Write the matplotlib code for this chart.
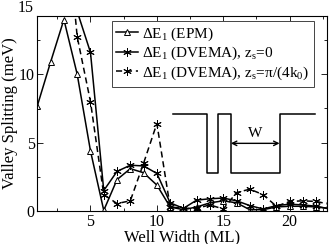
import matplotlib
matplotlib.use("Agg")
import matplotlib.pyplot as plt
from matplotlib.ticker import MultipleLocator

plt.rcParams['font.family'] = ['Liberation Serif', 'DejaVu Serif']
plt.rcParams['mathtext.fontset'] = 'custom'
plt.rcParams['mathtext.rm'] = 'Liberation Serif'
plt.rcParams['mathtext.it'] = 'Liberation Serif'

# EPM
x_epm = [1, 2, 3, 4, 5, 6, 7, 8, 9, 10, 11, 12, 13, 14, 15, 16, 17, 18, 19, 20, 21, 22, 23]
y_epm = [7.7, 10.9, 14.0, 10.0, 4.4, 0.05, 2.3, 3.1, 2.8, 1.9, 0.3, 0.1, 0.3, 0.6, 0.75, 0.6,
         0.1, 0.1, 0.3, 0.35, 0.35, 0.3, 0.2]
# DVEMA zs=0
x_dv0 = [3, 4, 5, 6, 7, 8, 9, 10, 11, 12, 13, 14, 15, 16, 17, 18, 19, 20, 21, 22, 23]
y_dv0 = [20.0, 14.6, 11.6, 1.5, 2.9, 3.35, 3.3, 2.75, 0.6, 0.2, 0.8, 0.9, 0.95, 0.75, 0.4,
         0.15, 0.4, 0.5, 0.45, 0.35, 0.15]
# DVEMA zs=pi/(4k0)
x_dvp = [3, 4, 5, 6, 7, 8, 9, 10, 11, 12, 13, 14, 15, 16, 17, 18, 19, 20, 21, 22, 23]
y_dvp = [23.0, 12.75, 8.0, 1.2, 0.55, 0.75, 3.5, 6.4, 0.3, 0.2, 0.2, 0.45, 0.15, 1.35, 1.6,
         1.2, 0.35, 0.7, 0.75, 0.7, 0.5]

labels = [r'$\Delta$E$_1$ (EPM)',
          r'$\Delta$E$_1$ (DVEMA), z$_\mathrm{s}$=0',
          r'$\Delta$E$_1$ (DVEMA), z$_\mathrm{s}$=$\pi$/(4k$_0$)']

# inset well sketch (data coordinates)
well_x = [11.23, 13.75, 13.75, 14.64, 14.64, 15.57, 15.57, 19.24, 19.24, 21.93]
well_y = [7.1, 7.1, 2.76, 2.76, 7.1, 7.1, 2.76, 2.76, 7.1, 7.1]
arrow_y = 4.95

fig = plt.figure(figsize=(3.32, 2.44), dpi=100)
ax = fig.add_axes([0.1125, 0.135, 0.872, 0.8])

star = (6, 2, 0)
ax.plot(x_epm, y_epm, '-', color='black', lw=1.1, marker='^', ms=5,
        mfc='white', mec='black', mew=0.7, label=labels[0])
ax.plot(x_dv0, y_dv0, '-', color='black', lw=1.1, marker=star, ms=6,
        mec='black', mew=0.7, label=labels[1])
ax.plot(x_dvp, y_dvp, '--', color='black', lw=1.1, marker=star, ms=6,
        mec='black', mew=0.7, dashes=(4, 2.5), label=labels[2])

ax.plot(well_x, well_y, '-', color='black', lw=1.1)
ax.annotate('', xy=(well_x[5], arrow_y), xytext=(well_x[7], arrow_y),
            arrowprops=dict(arrowstyle='<->', color='black', lw=1.0,
                            shrinkA=0, shrinkB=0, mutation_scale=8))
ax.text((well_x[5] + well_x[7]) / 2, arrow_y + 0.25, 'W', ha='center', va='bottom',
        fontsize=11)

ax.set_xlim(1, 22.8)
ax.set_ylim(0, 14.27)
ax.xaxis.set_major_locator(MultipleLocator(5))
ax.xaxis.set_minor_locator(MultipleLocator(2.5))
ax.yaxis.set_major_locator(MultipleLocator(5))
ax.yaxis.set_minor_locator(MultipleLocator(2.5))
ax.tick_params(which='both', direction='in', top=True, right=True, labelsize=11.5,
               width=0.6, pad=2)
ax.tick_params(which='major', length=4)
ax.tick_params(which='minor', length=2)
ax.text(-0.012, 14.85, '15', transform=ax.get_yaxis_transform(), ha='right',
        va='center', fontsize=11.5, clip_on=False)
for s in ax.spines.values():
    s.set_linewidth(0.8)

ax.set_xlabel('Well Width (ML)', fontsize=12)
ax.set_ylabel('Valley Splitting (meV)', fontsize=12)
ax.xaxis.set_label_coords(0.5, -0.093)
ax.yaxis.set_label_coords(-0.068, 0.5)

leg = ax.legend(loc='upper right', bbox_to_anchor=(0.955, 0.975), fontsize=11,
                frameon=True, fancybox=False, framealpha=1, edgecolor='#444444',
                handlelength=1.45, handletextpad=0.25, borderpad=0.3,
                labelspacing=0.15, borderaxespad=0)
leg.get_frame().set_linewidth(0.7)

fig.savefig('out.png', dpi=100)
